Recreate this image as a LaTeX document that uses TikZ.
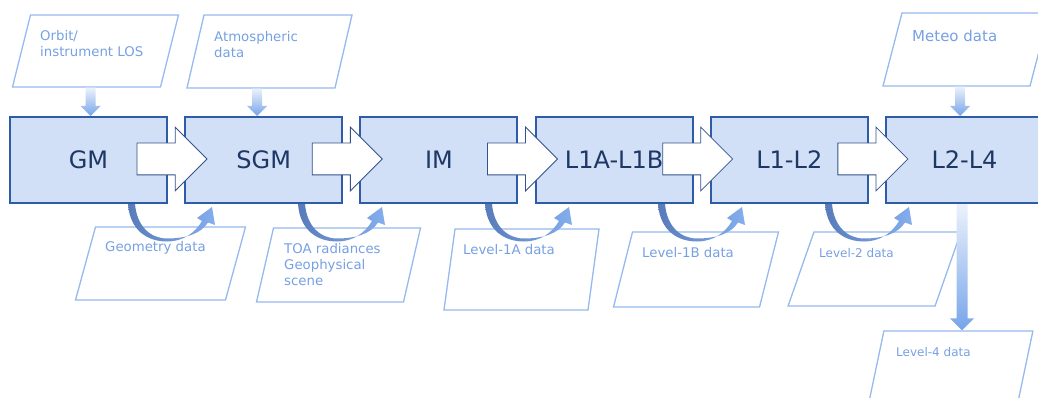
\documentclass[tikz,border=0pt]{standalone}
\usepackage{fontspec}
\setmainfont{DejaVu Sans}
\usetikzlibrary{shapes.arrows, calc}

\definecolor{boxfill}{RGB}{209,224,246}
\definecolor{boxline}{RGB}{46,92,166}
\definecolor{boxtext}{RGB}{30,55,100}
\definecolor{dataline}{RGB}{150,185,238}
\definecolor{datatext}{RGB}{118,160,226}
\definecolor{flowblue}{RGB}{118,164,234}
\definecolor{flowtop}{RGB}{236,242,251}
\definecolor{curldark}{RGB}{88,124,186}
\definecolor{curllight}{RGB}{132,174,238}
\definecolor{blockline}{RGB}{52,82,140}

% shaded arrow going down from one node to another at a given x
% #1 from, #2 to, #3 x, #4 half shaft, #5 half head, #6 head length
\newcommand\flowdown[6]{%
    \coordinate (fx) at (#3, 0);
    \shade[top color=flowtop, bottom color=flowblue]
        ($(#1.south -| fx)+(-#4,0)$) -- ($(#2.north -| fx)+(-#4,-#6)$)
        -- ($(#2.north -| fx)+(-#5,-#6)$) -- (#2.north -| fx)
        -- ($(#2.north -| fx)+(#5,-#6)$) -- ($(#2.north -| fx)+(#4,-#6)$)
        -- ($(#1.south -| fx)+(#4,0)$) -- cycle;
}
% curved product arrow under a box, #1 box, #2 x centre
\newcommand\curl[2]{%
    \coordinate (cx) at (#2, 0);
    \begin{scope}[shift={(#1.south -| cx)}]
        \shade[left color=curldark, right color=curllight]
            (-42,0) .. controls (-40,27) and (-22,37.5) .. (-3,37.5)
            .. controls (13,37.5) and (25,29) .. (32,17)
            -- (27,14) -- (42,3) -- (45,21) -- (38,18.5)
            .. controls (31,30) and (15,34.5) .. (-3,34.5)
            .. controls (-19,34.5) and (-33,23) .. (-35,0) -- cycle;
    \end{scope}
}

\begin{document}
\begin{tikzpicture}[x=1pt, y=-1pt,
    box/.style={draw=boxline, fill=boxfill, line width=2pt,
        minimum width=157pt, minimum height=86pt, inner sep=0pt,
        text=boxtext, font=\fontsize{24}{28}\selectfont},
    datashape/.style={draw=dataline, line width=1.3pt, inner sep=0pt,
        transform shape},
    datalabel/.style={text=datatext, font=\fontsize{13.3}{16}\selectfont,
        align=left, anchor=west, inner sep=0pt},
    blockarrow/.style={single arrow, draw=blockline, fill=white,
        line width=0.8pt, minimum height=70pt, minimum width=63pt,
        inner xsep=0pt, inner ysep=15.5pt, single arrow head extend=16pt}]
    \useasboundingbox (0,0) rectangle (1038,398);

    % inputs
    \node[datashape, xslant=0.25, minimum width=148pt, minimum height=72pt] (orbit) at (95.5,51) {};
    \node[datashape, xslant=0.233, minimum width=148pt, minimum height=73pt] (atmos) at (269.5,51.5) {};
    \node[datashape, xslant=0.26, minimum width=147pt, minimum height=73pt] (meteo) at (966,49.5) {};

    % products
    \node[datashape, xslant=0.274, minimum width=150pt, minimum height=73pt] (geo) at (160.5,263.5) {};
    \node[datashape, xslant=0.23, minimum width=147pt, minimum height=74pt] (toa) at (338.5,265) {};
    \node[datashape, xslant=0.136, minimum width=144pt, minimum height=81pt] (level1a) at (521.5,269.5) {};
    \node[datashape, xslant=0.253, minimum width=146pt, minimum height=75pt] (level1b) at (696,269.5) {};
    \node[datashape, xslant=0.35, minimum width=147pt, minimum height=74pt] (level2) at (874.5,269) {};
    \node[datashape, xslant=0.21, minimum width=149pt, minimum height=75pt] (level4) at (950.5,368.5) {};

    % modules
    \node[box] (GM) at (88.5,160) {GM};
    \node[box] (SGM) at (263.7,160) {SGM};
    \node[box] (IM) at (438.9,160) {IM};
    \node[box] (L1A) at (614.1,160) {L1A-L1B};
    \node[box] (L12) at (789.3,160) {L1-L2};
    \node[box] (L24) at (964.5,160) {L2-L4};

    % chain
    \foreach \a/\b in {GM/SGM, SGM/IM, IM/L1A, L1A/L12, L12/L24} {
        \node[blockarrow] (\a-\b) at ($(\a.east)!0.5!(\b.west)+(-12,-1)$) {};
    }

    % outputs
    \curl{GM}{170}
    \curl{SGM}{340}
    \curl{IM}{527}
    \curl{L1A}{700}
    \curl{L12}{867}

    \flowdown{orbit}{GM}{90.5}{5}{10}{10}
    \flowdown{atmos}{SGM}{257}{5}{10}{10}
    \flowdown{meteo}{L24}{960}{5}{10}{10}
    \flowdown{L24}{level4}{962}{5.5}{12}{12}

    % texts
    \node[datalabel] (orbittext) at (40,43.5) {Orbit/\\instrument LOS};
    \node[datalabel] (atmostext) at (214,45) {Atmospheric\\data};
    \node[datalabel, font=\fontsize{15}{18}\selectfont] (meteotext) at (912,36) {Meteo data};
    \node[datalabel] (geotext) at (105,248) {Geometry data};
    \node[datalabel] (toatext) at (284,265) {TOA radiances\\Geophysical\\scene};
    \node[datalabel] (level1atext) at (463,250) {Level-1A data};
    \node[datalabel] (level1btext) at (642,253) {Level-1B data};
    \node[datalabel, font=\fontsize{12}{15}\selectfont] (level2text) at (819,253) {Level-2 data};
    \node[datalabel, font=\fontsize{12}{15}\selectfont] (level4text) at (896,352) {Level-4 data};
\end{tikzpicture}
\end{document}
